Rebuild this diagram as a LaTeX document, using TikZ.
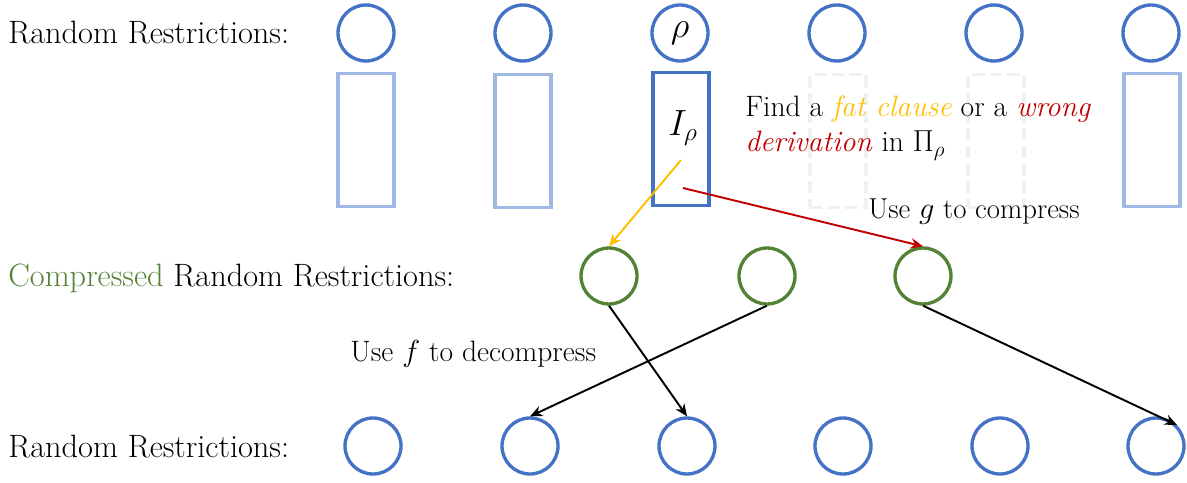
\documentclass[tikz,border=0pt]{standalone}
\usepackage{amsmath,amssymb}
\usepackage{xcolor}
\usepackage{tikz}
\usetikzlibrary{arrows.meta, positioning, calc}
\definecolor{rrblue}{RGB}{68,114,196}
\definecolor{rrlight}{RGB}{160,185,228}
\definecolor{rrfaint}{RGB}{238,241,246}
\definecolor{rrgreen}{RGB}{84,130,53}
\definecolor{rryellow}{RGB}{255,192,0}
\definecolor{rrred}{RGB}{192,0,0}
\tikzstyle{restr} = [circle, draw=rrblue, line width=1.9pt, minimum size=1.12cm, inner sep=0pt, font=\fontsize{22}{24}\selectfont]
\tikzstyle{compr} = [circle, draw=rrgreen, line width=1.9pt, minimum size=1.12cm, inner sep=0pt]
\tikzstyle{inst} = [rectangle, draw=rrlight, line width=1.8pt, minimum width=1.12cm, minimum height=2.66cm, inner sep=0pt]
\tikzstyle{rowlabel} = [anchor=west, font=\fontsize{18.4}{22}\selectfont, inner sep=0pt]
\tikzstyle{label} = [anchor=west, font=\fontsize{16.8}{20}\selectfont, inner sep=0pt]
\tikzstyle{arrow} = [line width=1.1pt,-{Stealth[length=7pt,width=6pt]}]

\begin{document}
\begin{tikzpicture}[x=0.02cm, y=-0.02cm]
\useasboundingbox (0,0) rectangle (1187,483);

% Labels of the rows
\node (top) [rowlabel] at (8,33) {Random Restrictions:};
\node (mid) [rowlabel] at (8,278) {\textcolor{rrgreen}{Compressed} Random Restrictions:};
\node (bot) [rowlabel] at (8,447) {Random Restrictions:};

% Top row
\node (t1) [restr] at (366,33) {};
\node (t2) [restr] at (523,33) {};
\node (t3) [restr] at (680,33) {$\rho$};
\node (t4) [restr] at (837,33) {};
\node (t5) [restr] at (994,33) {};
\node (t6) [restr] at (1151,33) {};

% Instances
\node (i1) [inst] at (366,140) {};
\node (i2) [inst] at (523,141) {};
\node (i3) [inst, draw=rrblue] at (681,139) {};
\node (i4) [inst, draw=rrfaint, dash pattern=on 7pt off 3pt] at (838,141) {};
\node (i5) [inst, draw=rrfaint, dash pattern=on 7pt off 3pt] at (996,141) {};
\node (i6) [inst] at (1152,140) {};
\node (irho) [font=\fontsize{22}{24}\selectfont, inner sep=0pt] at (683,128) {$I_\rho$};

\node (find) [label, align=left] at (745,128) {Find a \textcolor{rryellow}{\textit{fat clause}} or a \textcolor{rrred}{\textit{wrong}}\\\textcolor{rrred}{\textit{derivation}} in $\Pi_\rho$};
\node (useg) [label, font=\fontsize{16.4}{20}\selectfont] at (868,212) {Use $g$ to compress};

% Middle row
\node (c1) [compr] at (609,276) {};
\node (c2) [compr] at (767,276) {};
\node (c3) [compr] at (923,276) {};

\node (usef) [label] at (350,354) {Use $f$ to decompress};

% Bottom row
\node (b1) [restr] at (373,446) {};
\node (b2) [restr] at (530,446) {};
\node (b3) [restr] at (687,446) {};
\node (b4) [restr] at (843,446) {};
\node (b5) [restr] at (1000,446) {};
\node (b6) [restr] at (1156,446) {};

% Arrows
\coordinate (fat) at (681,160);
\coordinate (wrong) at (683,188);
\draw [arrow, draw=rryellow, color=rryellow] (fat) -- (c1.north);
\draw [arrow, draw=rrred, color=rrred] (wrong) -- (c3.north);
\draw [arrow] (c1.south) -- (b3.north);
\draw [arrow] (c2.south) -- (b2.north);
\draw [arrow] (c3.south) -- (b6.north east);

\end{tikzpicture}
\end{document}
